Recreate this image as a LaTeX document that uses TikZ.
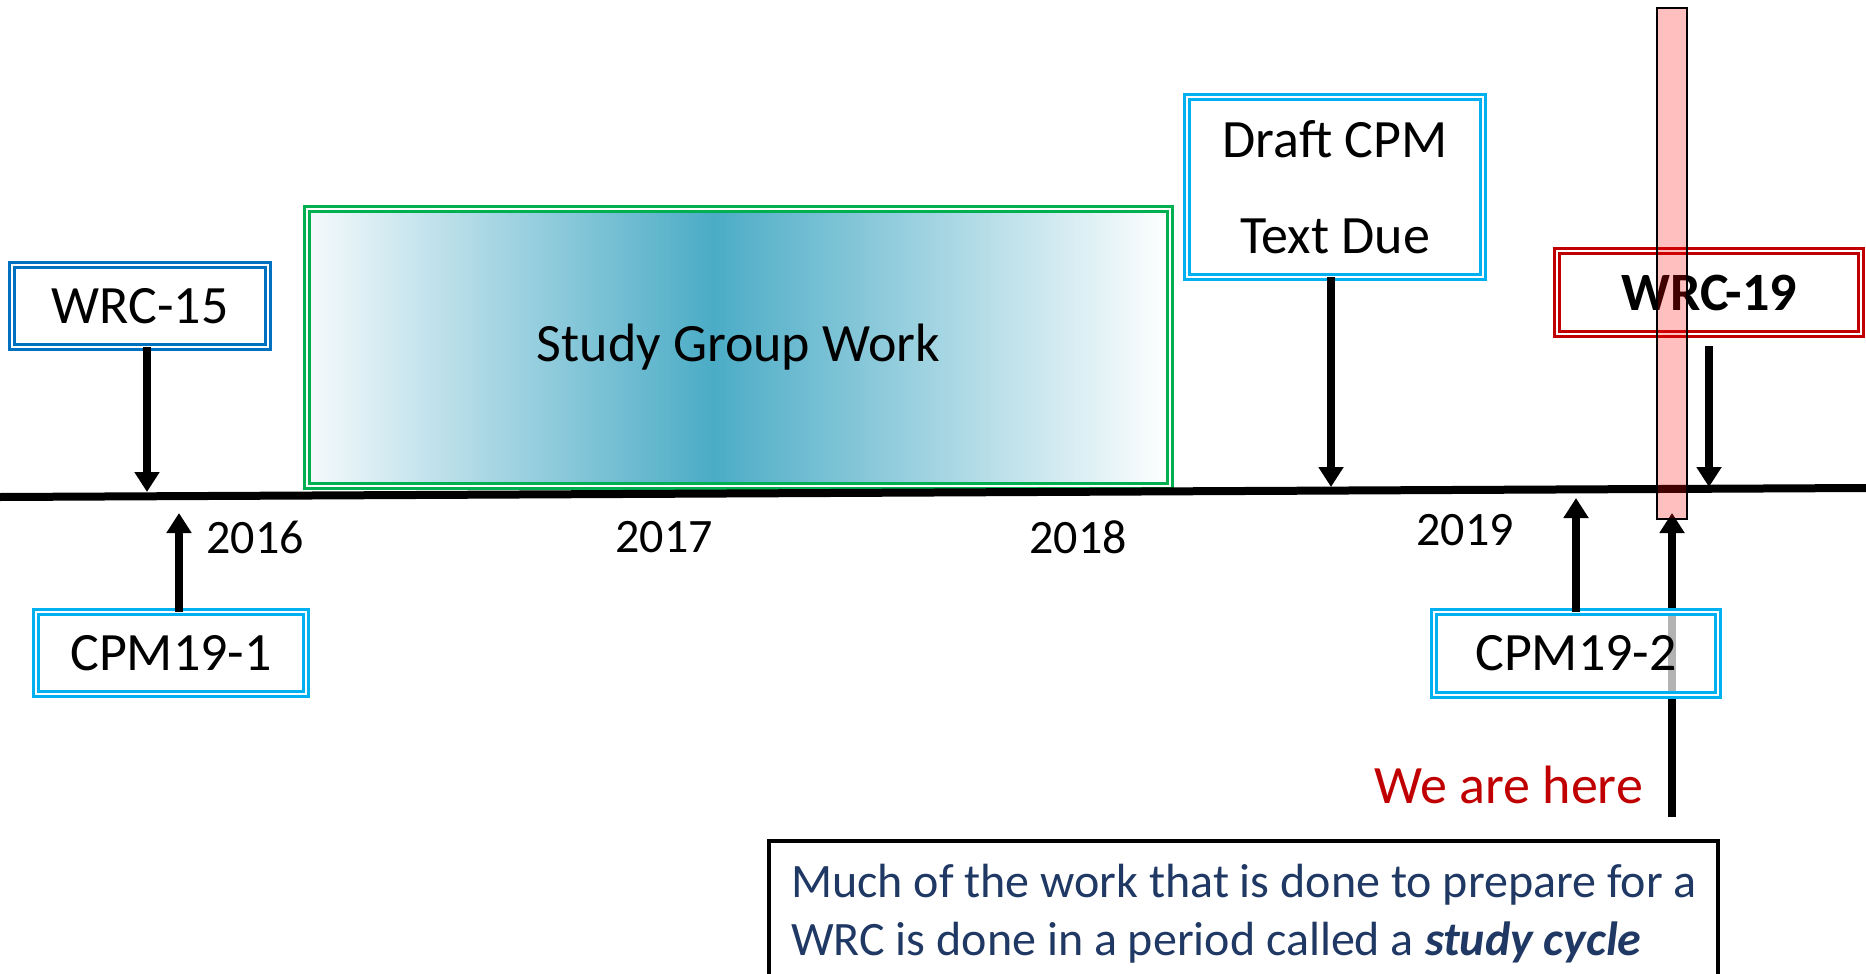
\documentclass[tikz,border=0pt]{standalone}
\usepackage{fontspec}
\setmainfont{Carlito}
\usetikzlibrary{arrows.meta}
\definecolor{wrcblue}{HTML}{0070C0}
\definecolor{cpmcyan}{HTML}{00B0F0}
\definecolor{sggreen}{HTML}{00B050}
\definecolor{wrcred}{HTML}{C00000}
\definecolor{sgteal}{HTML}{4BACC6}
\definecolor{sgedge}{HTML}{F5FAFC}
\definecolor{notenavy}{HTML}{1F3864}
\pgfdeclarehorizontalshading{sgshade}{100bp}{color(0bp)=(sgedge); color(25bp)=(sgedge); color(48.5bp)=(sgteal); color(75bp)=(white); color(100bp)=(white)}
\newcommand{\bigfont}{\fontsize{54}{64}\selectfont}
\newcommand{\yearfont}{\fontsize{48}{57}\selectfont}
\newcommand{\notefont}{\fontsize{48}{58}\selectfont}
\begin{document}
\begin{tikzpicture}[x=1pt,y=-1pt,
  dbox/.style={draw=#1, double=white, line width=2.8pt, double distance=2.5pt,
    inner sep=0pt, outer sep=0pt, font=\bigfont, text=black},
  tarrow/.style={line width=8pt, -{Triangle[width=24pt,length=20pt]}},
  year/.style={font=\yearfont, text=black, inner sep=0pt},
]
\useasboundingbox (0,0) rectangle (1866,974);
\clip (0,0) rectangle (1866,974);
\fill[white] (0,0) rectangle (1866,974);

% timeline ends
\coordinate (tl) at (0,497);
\coordinate (tr) at (1866,488);

% study group box
\node (sg) [dbox=sggreen, shading=sgshade, shade,
  minimum width=863pt, minimum height=277pt] at (738.5,347.5) {\raisebox{-3pt}{Study Group Work}};

% timeline
\draw[line width=8pt] (tl) -- (tr);

% years
\node (y16) [year] at (255,537) {2016};
\node (y17) [year] at (664,537) {2017};
\node (y18) [year] at (1078,537) {2018};
\node (y19) [year] at (1465,530) {2019};

% "we are here" arrow
\coordinate (weBase) at (1672,817);
\coordinate (weTip) at (1672,513);
\draw[tarrow] (weBase) -- (weTip);

% boxes
\node (wrc15) [dbox=wrcblue, minimum width=256pt, minimum height=82pt] at (140,306) {WRC-15};
\node (cpm1) [dbox=cpmcyan, fill=white, minimum width=270pt, minimum height=82pt] at (171,653) {CPM19-1};
\node (draft) [dbox=cpmcyan, align=center, minimum width=296pt, minimum height=180pt] at (1335,187) {Draft CPM\\[32pt]Text Due};
\node (wrc19) [dbox=wrcred, minimum width=304pt, minimum height=83pt, font=\bigfont\bfseries] at (1709,292.5) {WRC-19};
\node (cpm2) [dbox=cpmcyan, fill=white, fill opacity=0.7, text opacity=1, minimum width=284pt, minimum height=83pt] at (1576,653.5) {CPM19-2};

% arrows
\coordinate (t15) at (147,492);
\draw[tarrow] ([xshift=7pt]wrc15.south) -- (t15);
\coordinate (t1) at (179,513);
\draw[tarrow] ([xshift=8pt]cpm1.north) -- (t1);
\coordinate (tdraft) at (1331,487);
\draw[tarrow] ([xshift=-4pt]draft.south) -- (tdraft);
\coordinate (t19) at (1709,487);
\draw[tarrow] ([yshift=-12pt]wrc19.south) -- (t19);
\coordinate (t2) at (1576,498);
\draw[tarrow] (cpm2.north) -- (t2);

% we are here
\node (we) [anchor=base east, font=\bigfont, text=wrcred, inner sep=0pt] at (1643,803) {We are here};

% note box
\node (note) [draw=black, line width=3.5pt, anchor=north west, minimum width=949pt,
  minimum height=170pt, inner sep=0pt, outer sep=0pt] at (769,841) {};
\node (note1) [anchor=base west, font=\notefont, text=notenavy, inner sep=0pt] at (791,897)
  {Much of the work that is done to prepare for a};
\node (note2) [anchor=base west, font=\notefont, text=notenavy, inner sep=0pt] at (791,955)
  {WRC is done in a period called a \textbf{\textit{study cycle}}};

% highlight bar
\node (bar) [draw=black, line width=2.5pt, fill=red, fill opacity=0.25, minimum width=30pt,
  minimum height=511pt, inner sep=0pt, outer sep=0pt] at (1672,263.5) {};
\end{tikzpicture}
\end{document}
